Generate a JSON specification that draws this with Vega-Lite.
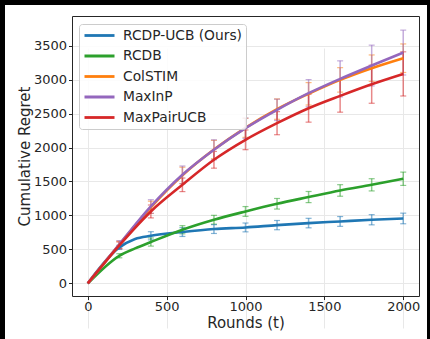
{
  "$schema": "https://vega.github.io/schema/vega-lite/v6.json",
  "autosize": {"type": "none"},
  "width": 422,
  "height": 334,
  "padding": {"left": 5, "top": 5, "right": 3, "bottom": 0},
  "background": "black",
  "config": {
    "view": {"fill": "white", "stroke": null},
    "font": "DejaVu Sans",
    "axis": {
      "labelFont": "DejaVu Sans",
      "titleFont": "DejaVu Sans",
      "labelFontSize": 13,
      "titleFontSize": 15,
      "titleFontWeight": "normal",
      "labelColor": "#262626",
      "titleColor": "#262626",
      "domainColor": "#262626",
      "tickColor": "#262626",
      "gridColor": "#e8e8e8",
      "gridWidth": 1,
      "tickSize": 3.5,
      "domainWidth": 1,
      "labelPadding": 2,
      "format": "d"
    },
    "legend": {
      "labelFont": "DejaVu Sans",
      "labelFontSize": 13.8,
      "labelColor": "#262626"
    }
  },
  "datasets": {
    "regret": [
      {"alg": "RCDP-UCB (Ours)", "t": 0, "mean": 0},
      {"alg": "RCDP-UCB (Ours)", "t": 200, "mean": 530, "lo": 500, "hi": 560},
      {"alg": "RCDP-UCB (Ours)", "t": 300, "mean": 655},
      {"alg": "RCDP-UCB (Ours)", "t": 400, "mean": 701, "lo": 641, "hi": 761},
      {"alg": "RCDP-UCB (Ours)", "t": 600, "mean": 756, "lo": 691, "hi": 821},
      {"alg": "RCDP-UCB (Ours)", "t": 800, "mean": 800, "lo": 735, "hi": 865},
      {"alg": "RCDP-UCB (Ours)", "t": 1000, "mean": 824, "lo": 759, "hi": 889},
      {"alg": "RCDP-UCB (Ours)", "t": 1200, "mean": 858, "lo": 790, "hi": 926},
      {"alg": "RCDP-UCB (Ours)", "t": 1400, "mean": 888, "lo": 818, "hi": 958},
      {"alg": "RCDP-UCB (Ours)", "t": 1600, "mean": 912, "lo": 840, "hi": 984},
      {"alg": "RCDP-UCB (Ours)", "t": 1800, "mean": 937, "lo": 862, "hi": 1012},
      {"alg": "RCDP-UCB (Ours)", "t": 2000, "mean": 956, "lo": 878, "hi": 1034},
      {"alg": "RCDB", "t": 0, "mean": 0},
      {"alg": "RCDB", "t": 200, "mean": 407, "lo": 377, "hi": 437},
      {"alg": "RCDB", "t": 300, "mean": 515},
      {"alg": "RCDB", "t": 400, "mean": 609, "lo": 549, "hi": 669},
      {"alg": "RCDB", "t": 600, "mean": 790, "lo": 730, "hi": 850},
      {"alg": "RCDB", "t": 800, "mean": 937, "lo": 872, "hi": 1002},
      {"alg": "RCDB", "t": 1000, "mean": 1059, "lo": 987, "hi": 1131},
      {"alg": "RCDB", "t": 1200, "mean": 1172, "lo": 1094, "hi": 1250},
      {"alg": "RCDB", "t": 1400, "mean": 1271, "lo": 1189, "hi": 1353},
      {"alg": "RCDB", "t": 1600, "mean": 1368, "lo": 1283, "hi": 1453},
      {"alg": "RCDB", "t": 1800, "mean": 1451, "lo": 1361, "hi": 1541},
      {"alg": "RCDB", "t": 2000, "mean": 1540, "lo": 1442, "hi": 1638},
      {"alg": "ColSTIM", "t": 0, "mean": 0},
      {"alg": "ColSTIM", "t": 200, "mean": 570, "lo": 520, "hi": 620},
      {"alg": "ColSTIM", "t": 400, "mean": 1120, "lo": 1030, "hi": 1210},
      {"alg": "ColSTIM", "t": 600, "mean": 1590, "lo": 1470, "hi": 1710},
      {"alg": "ColSTIM", "t": 800, "mean": 1970, "lo": 1835, "hi": 2105},
      {"alg": "ColSTIM", "t": 1000, "mean": 2290, "lo": 2150, "hi": 2430},
      {"alg": "ColSTIM", "t": 1200, "mean": 2565, "lo": 2415, "hi": 2715},
      {"alg": "ColSTIM", "t": 1400, "mean": 2790, "lo": 2625, "hi": 2955},
      {"alg": "ColSTIM", "t": 1600, "mean": 2995, "lo": 2815, "hi": 3175},
      {"alg": "ColSTIM", "t": 1800, "mean": 3167, "lo": 2972, "hi": 3362},
      {"alg": "ColSTIM", "t": 2000, "mean": 3314, "lo": 3104, "hi": 3524},
      {"alg": "MaxInP", "t": 0, "mean": 0},
      {"alg": "MaxInP", "t": 200, "mean": 575, "lo": 520, "hi": 630},
      {"alg": "MaxInP", "t": 400, "mean": 1132, "lo": 1032, "hi": 1232},
      {"alg": "MaxInP", "t": 600, "mean": 1598, "lo": 1468, "hi": 1728},
      {"alg": "MaxInP", "t": 800, "mean": 1966, "lo": 1819, "hi": 2113},
      {"alg": "MaxInP", "t": 1000, "mean": 2284, "lo": 2134, "hi": 2434},
      {"alg": "MaxInP", "t": 1200, "mean": 2554, "lo": 2397, "hi": 2711},
      {"alg": "MaxInP", "t": 1400, "mean": 2799, "lo": 2599, "hi": 2999},
      {"alg": "MaxInP", "t": 1600, "mean": 3010, "lo": 2745, "hi": 3275},
      {"alg": "MaxInP", "t": 1800, "mean": 3206, "lo": 2906, "hi": 3506},
      {"alg": "MaxInP", "t": 2000, "mean": 3397, "lo": 3067, "hi": 3727},
      {"alg": "MaxPairUCB", "t": 0, "mean": 0},
      {"alg": "MaxPairUCB", "t": 200, "mean": 560, "lo": 510, "hi": 610},
      {"alg": "MaxPairUCB", "t": 400, "mean": 1059, "lo": 964, "hi": 1154},
      {"alg": "MaxPairUCB", "t": 600, "mean": 1451, "lo": 1351, "hi": 1551},
      {"alg": "MaxPairUCB", "t": 800, "mean": 1819, "lo": 1696, "hi": 1942},
      {"alg": "MaxPairUCB", "t": 1000, "mean": 2113, "lo": 1968, "hi": 2258},
      {"alg": "MaxPairUCB", "t": 1200, "mean": 2358, "lo": 2188, "hi": 2528},
      {"alg": "MaxPairUCB", "t": 1400, "mean": 2578, "lo": 2373, "hi": 2783},
      {"alg": "MaxPairUCB", "t": 1600, "mean": 2760, "lo": 2520, "hi": 3000},
      {"alg": "MaxPairUCB", "t": 1800, "mean": 2931, "lo": 2651, "hi": 3211},
      {"alg": "MaxPairUCB", "t": 2000, "mean": 3083, "lo": 2758, "hi": 3408}
    ]
  },
  "data": {"name": "regret"},
  "layer": [
    {
      "transform": [{"filter": "isValid(datum.lo)"}],
      "mark": {"type": "errorbar", "ticks": {"size": 6, "thickness": 1.2}, "thickness": 1.5, "opacity": 0.55},
      "encoding": {
        "x": {"field": "t", "type": "quantitative", "scale": {"domain": [-100, 2100], "range": [67, 414], "nice": false, "zero": false},
              "axis": {"orient": "top", "offset": -11, "labels": false, "ticks": false, "grid": false, "title": null, "domain": true}},
        "y": {"field": "lo", "type": "quantitative", "scale": {"domain": [-185, 3935], "range": [291, 11], "nice": false, "zero": false},
              "axis": {"orient": "right", "offset": -8, "labels": false, "ticks": false, "grid": false, "title": null, "domain": true}},
        "y2": {"field": "hi"},
        "color": {"field": "alg", "type": "nominal",
                  "scale": {"domain": ["RCDP-UCB (Ours)", "RCDB", "ColSTIM", "MaxInP", "MaxPairUCB"],
                            "range": ["#1f77b4", "#2ca02c", "#ff7f0e", "#9467bd", "#d62728"]},
                  "legend": {"orient": "none", "legendX": 74, "legendY": 19, "title": null,
                             "symbolType": "stroke", "symbolSize": 900, "symbolStrokeWidth": 2.8, "symbolOpacity": 1,
                             "labelFontSize": 13.8, "labelOffset": 7, "padding": 4, "clipHeight": 15, "rowPadding": 5.5,
                             "fillColor": "rgba(255,255,255,0.85)", "strokeColor": "#cccccc", "cornerRadius": 3}}
      }
    },
    {
      "mark": {"type": "line", "strokeWidth": 2.6, "interpolate": "monotone"},
      "encoding": {
        "x": {"field": "t", "type": "quantitative", "scale": {"domain": [-100, 2100], "range": [67, 414], "nice": false, "zero": false},
              "axis": {"orient": "bottom", "offset": -43, "values": [0, 500, 1000, 1500, 2000], "title": "Rounds (t)", "titlePadding": 1.5, "labelPadding": 1, "grid": true}},
        "y": {"field": "mean", "type": "quantitative", "scale": {"domain": [-185, 3935], "range": [291, 11], "nice": false, "zero": false},
              "axis": {"orient": "left", "offset": -67, "values": [0, 500, 1000, 1500, 2000, 2500, 3000, 3500], "title": "Cumulative Regret", "titlePadding": 1, "grid": true}},
        "color": {"field": "alg", "type": "nominal",
                  "scale": {"domain": ["RCDP-UCB (Ours)", "RCDB", "ColSTIM", "MaxInP", "MaxPairUCB"],
                            "range": ["#1f77b4", "#2ca02c", "#ff7f0e", "#9467bd", "#d62728"]},
                  "legend": {"orient": "none", "legendX": 74, "legendY": 19, "title": null,
                             "symbolType": "stroke", "symbolSize": 900, "symbolStrokeWidth": 2.8, "symbolOpacity": 1,
                             "labelFontSize": 13.8, "labelOffset": 7, "padding": 4, "clipHeight": 15, "rowPadding": 5.5,
                             "fillColor": "rgba(255,255,255,0.85)", "strokeColor": "#cccccc", "cornerRadius": 3}}
      }
    }
  ],
  "resolve": {"axis": {"x": "independent", "y": "independent"}}
}
